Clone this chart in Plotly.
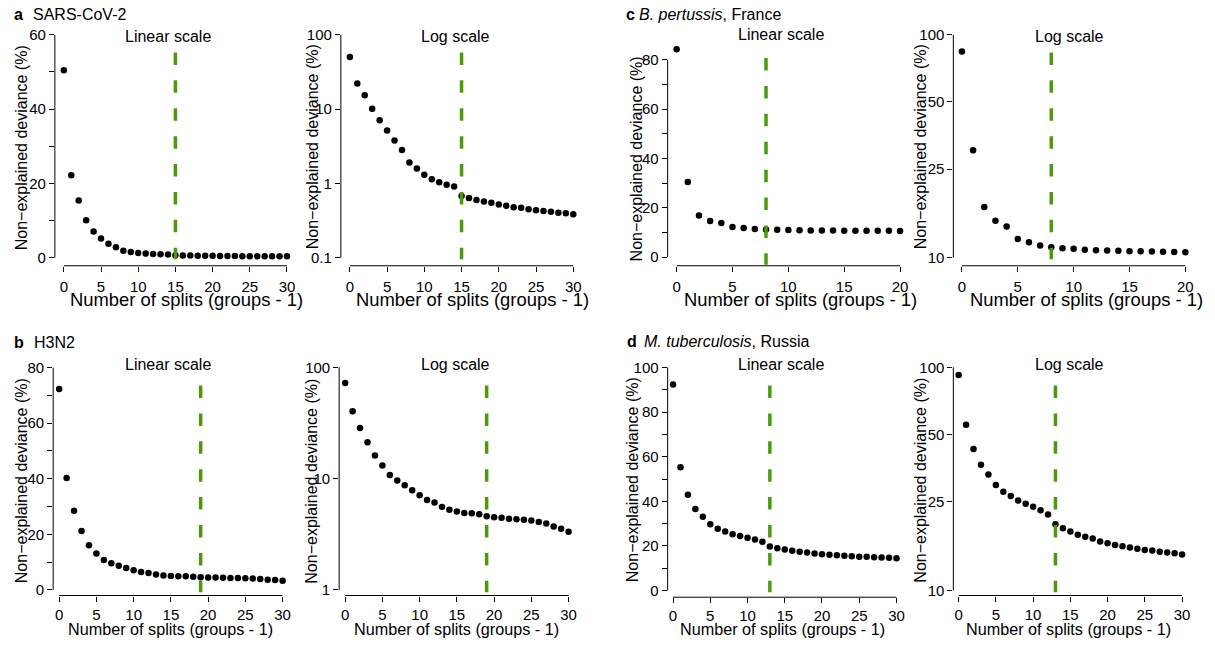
import math
import plotly.graph_objects as go

W, H = 1215, 645
FONT = "Liberation Sans, Arial, Helvetica, sans-serif"

# ---------------- data ----------------
splits_30 = [0, 1, 2, 3, 4, 5, 6, 7, 8, 9, 10, 11, 12, 13, 14, 15, 16, 17, 18, 19, 20,
             21, 22, 23, 24, 25, 26, 27, 28, 29, 30]
splits_20 = [0, 1, 2, 3, 4, 5, 6, 7, 8, 9, 10, 11, 12, 13, 14, 15, 16, 17, 18, 19, 20]

sars_cov2 = [50.5, 22.2, 15.4, 10.1, 7.1, 5.18, 3.8, 2.82, 1.91, 1.59, 1.31, 1.14, 1.04,
             0.96, 0.91, 0.68, 0.64, 0.60, 0.57, 0.55, 0.52, 0.50, 0.48, 0.47, 0.45,
             0.435, 0.426, 0.417, 0.405, 0.397, 0.385]
h3n2 = [72.3, 40.3, 28.5, 21.2, 16.1, 13.1, 10.8, 9.6, 8.7, 7.85, 7.08, 6.43, 6.1, 5.57,
        5.24, 5.06, 4.92, 4.89, 4.79, 4.59, 4.5, 4.44, 4.35, 4.32, 4.26, 4.2, 4.08, 3.95,
        3.71, 3.54, 3.33]
pertussis = [84.2, 30.4, 16.9, 14.65, 13.8, 12.15, 11.75, 11.35, 11.16, 11.05, 10.97,
             10.86, 10.82, 10.78, 10.75, 10.71, 10.7, 10.67, 10.64, 10.63, 10.6]
tuberculosis = [92.4, 55.3, 43.0, 36.6, 33.1, 29.7, 27.7, 26.5, 25.3, 24.5, 23.7, 22.9,
                21.9, 19.8, 19.0, 18.4, 17.8, 17.4, 17.1, 16.6, 16.3, 16.0, 15.8, 15.6,
                15.4, 15.2, 15.1, 14.9, 14.8, 14.7, 14.5]

chosen_sars = 15
chosen_h3n2 = 19
chosen_pertussis = 8
chosen_tb = 13

x_ticks_30 = [0, 5, 10, 15, 20, 25, 30]
x_ticks_20 = [0, 5, 10, 15, 20]

y_lin_60 = [0, 10, 20, 30, 40, 50, 60]
y_lin_60_labels = ["0", "", "20", "", "40", "", "60"]
y_lin_80 = [0, 10, 20, 30, 40, 50, 60, 70, 80]
y_lin_80_labels = ["0", "", "20", "", "40", "", "60", "", "80"]
y_lin_100 = [0, 10, 20, 30, 40, 50, 60, 70, 80, 90, 100]
y_lin_100_labels = ["0", "", "20", "", "40", "", "60", "", "80", "", "100"]
y_log_a = [0.1, 1, 10, 100]
y_log_a_labels = ["0.1", "1", "10", "100"]
y_log_b = [1, 10, 100]
y_log_b_labels = ["1", "10", "100"]
y_log_cd = [10, 25, 50, 100]
y_log_cd_labels = ["10", "25", "50", "100"]

# ---------------- layout geometry (pixels) ----------------
panels = [
    # top row
    dict(x=splits_30, y=sars_cov2, split=chosen_sars, log=False, xt=x_ticks_30,
         yt=y_lin_60, ytl=y_lin_60_labels,
         axL=55, x0px=64, x1px=287.7, xB=267, yT=22, ylo_px=259, yhi_px=35,
         ytx=15, yty=148, title="Linear scale", tx=168.8, ty=36.7,
         xtx=186.5, xty=300.5, xfs=18.4, dtop=52.7, stand=2),
    dict(x=splits_30, y=sars_cov2, split=chosen_sars, log=True, xt=x_ticks_30,
         yt=y_log_a, ytl=y_log_a_labels,
         axL=341.7, x0px=350.7, x1px=574.7, xB=267, yT=22, ylo_px=259, yhi_px=35,
         ytx=306.7, yty=147, title="Log scale", tx=457, ty=36.7,
         xtx=473.7, xty=300.5, xfs=18.4, dtop=52.7, stand=2),
    dict(x=splits_20, y=pertussis, split=chosen_pertussis, log=False, xt=x_ticks_20,
         yt=y_lin_80, ytl=y_lin_80_labels,
         axL=669.3, x0px=678.3, x1px=902.3, xB=267, yT=22, ylo_px=258.3, yhi_px=60,
         ytx=631.7, yty=160, title="Linear scale", tx=783.3, ty=35,
         xtx=802.5, xty=300.5, xfs=18.4, dtop=58.3, stand=2),
    dict(x=splits_20, y=pertussis, split=chosen_pertussis, log=True, xt=x_ticks_20,
         yt=y_log_cd, ytl=y_log_cd_labels,
         axL=955.7, x0px=964.3, x1px=1188.3, xB=267, yT=22, ylo_px=259, yhi_px=35,
         ytx=916.7, yty=147.5, title="Log scale", tx=1072, ty=36.7,
         xtx=1089, xty=300.5, xfs=18.4, dtop=52.7, stand=2),
    # bottom row
    dict(x=splits_30, y=h3n2, split=chosen_h3n2, log=False, xt=x_ticks_30,
         yt=y_lin_80, ytl=y_lin_80_labels,
         axL=53.3, x0px=59.3, x1px=283.3, xB=598.3, yT=352, ylo_px=592.7, yhi_px=369.3,
         ytx=15, yty=482.5, title="Linear scale", tx=168.8, ty=366,
         xtx=170.8, xty=631.5, xfs=16.2, dtop=387.3, stand=0),
    dict(x=splits_30, y=h3n2, split=chosen_h3n2, log=True, xt=x_ticks_30,
         yt=y_log_b, ytl=y_log_b_labels,
         axL=340, x0px=346, x1px=570, xB=598.3, yT=352, ylo_px=592.7, yhi_px=369,
         ytx=306.7, yty=483, title="Log scale", tx=457, ty=366,
         xtx=457.5, xty=631.5, xfs=16.2, dtop=387.3, stand=0),
    dict(x=splits_30, y=tuberculosis, split=chosen_tb, log=False, xt=x_ticks_30,
         yt=y_lin_100, ytl=y_lin_100_labels,
         axL=669.3, x0px=674.7, x1px=898.7, xB=600, yT=352, ylo_px=593.3, yhi_px=369.3,
         ytx=628.3, yty=481.7, title="Linear scale", tx=783, ty=366,
         xtx=784.7, xty=631.5, xfs=16.2, dtop=387.3, stand=0),
    dict(x=splits_30, y=tuberculosis, split=chosen_tb, log=True, xt=x_ticks_30,
         yt=y_log_cd, ytl=y_log_cd_labels,
         axL=955.7, x0px=961, x1px=1185, xB=598.3, yT=352, ylo_px=593.3, yhi_px=369,
         ytx=916.7, yty=482.5, title="Log scale", tx=1072, ty=366,
         xtx=1071.3, xty=631.5, xfs=16.2, dtop=387.3, stand=0),
]

GREEN = "#4c9a0c"
DASH_LEN = 12.5
DASH_PERIOD = 27.9

fig = go.Figure()
shapes = []
annotations = []
layout_axes = {}


def px_x(p):
    return p / W


def px_y(p):
    return 1 - p / H


for i, P in enumerate(panels, start=1):
    xs = "" if i == 1 else str(i)
    xname, yname = "x" + xs, "y" + xs
    xmax = P["xt"][-1]
    ppx = (P["x1px"] - P["x0px"]) / (xmax - P["xt"][0])
    gap = P["x0px"] - P["axL"]
    xr = [P["xt"][0] - gap / ppx, xmax + gap / ppx]
    R = P["x1px"] + gap

    fy = (lambda v: math.log10(v)) if P["log"] else (lambda v: v)
    ylo, yhi = P["yt"][0], P["yt"][-1]
    ppy = (P["ylo_px"] - P["yhi_px"]) / (fy(yhi) - fy(ylo))
    yr = [fy(ylo) - (P["xB"] - P["ylo_px"]) / ppy, fy(yhi) + (P["yhi_px"] - P["yT"]) / ppy]

    fig.add_trace(go.Scatter(
        x=P["x"], y=P["y"], mode="markers", xaxis=xname, yaxis=yname,
        marker=dict(color="black", size=6.5, line=dict(width=0)),
        cliponaxis=False, showlegend=False, hoverinfo="x+y"))

    tick_common = dict(showgrid=False, zeroline=False, showline=False, ticks="outside",
                       ticklen=5, tickwidth=1, tickcolor="black",
                       tickfont=dict(family=FONT, size=15, color="black"),
                       fixedrange=True)
    layout_axes["xaxis" + xs] = dict(
        domain=[px_x(P["axL"]), px_x(R)], range=xr, anchor=yname,
        tickmode="array", tickvals=P["xt"], ticktext=[str(v) for v in P["xt"]],
        ticklabelstandoff=P["stand"], **tick_common)
    layout_axes["yaxis" + xs] = dict(
        domain=[px_y(P["xB"]), px_y(P["yT"])], range=yr, anchor=xname,
        type="log" if P["log"] else "linear",
        tickmode="array", tickvals=P["yt"], ticktext=P["ytl"],
        **tick_common)

    # axis lines spanning only the tick range (R-style)
    shapes.append(dict(type="line", xref=xname, yref=yname + " domain",
                       x0=P["xt"][0], x1=xmax, y0=0, y1=0,
                       line=dict(color="black", width=1)))
    shapes.append(dict(type="line", xref=xname + " domain", yref=yname,
                       x0=0, x1=0, y0=ylo, y1=yhi,
                       line=dict(color="black", width=1)))
    # chosen split dashed line
    top = P["dtop"]
    bot = top + 7 * DASH_PERIOD + DASH_LEN
    shapes.append(dict(type="line", xref=xname, yref="paper",
                       x0=P["split"], x1=P["split"], y0=px_y(top), y1=px_y(bot),
                       line=dict(color=GREEN, width=3.5,
                                 dash="%.1fpx,%.1fpx" % (DASH_LEN, DASH_PERIOD - DASH_LEN))))

    annotations.append(dict(text=P["title"], xref="paper", yref="paper",
                            x=px_x(P["tx"]), y=px_y(P["ty"]), xanchor="center",
                            yanchor="middle", showarrow=False,
                            font=dict(family=FONT, size=16, color="black")))
    annotations.append(dict(text="Number of splits (groups - 1)", xref="paper", yref="paper",
                            x=px_x(P["xtx"]), y=px_y(P["xty"]), xanchor="center",
                            yanchor="middle", showarrow=False,
                            font=dict(family=FONT, size=P["xfs"], color="black")))
    annotations.append(dict(text="Non\u2212explained deviance (%)", xref="paper", yref="paper",
                            x=px_x(P["ytx"] + 6), y=px_y(P["yty"]), xanchor="center",
                            yanchor="middle", textangle=-90, showarrow=False,
                            font=dict(family=FONT, size=16, color="black")))

# panel labels
labels = [
    ("a", "SARS-CoV-2", 11.7, 30.7, 15),
    ("b", "H3N2", 11.7, 32.3, 344),
    ("c", "<i>B. pertussis</i>, France", 625.7, 638.5, 15),
    ("d", "<i>M. tuberculosis</i>, Russia", 626.3, 643.3, 343),
]
for letter, name, lx, nx, ly in labels:
    annotations.append(dict(text="<b>%s</b>" % letter, xref="paper", yref="paper",
                            x=px_x(lx), y=px_y(ly), xanchor="left", yanchor="middle",
                            showarrow=False, font=dict(family=FONT, size=16, color="black")))
    annotations.append(dict(text=name, xref="paper", yref="paper",
                            x=px_x(nx), y=px_y(ly), xanchor="left", yanchor="middle",
                            showarrow=False, font=dict(family=FONT, size=16, color="black")))

fig.update_layout(
    width=W, height=H, margin=dict(l=0, r=0, t=0, b=0, pad=0),
    paper_bgcolor="white", plot_bgcolor="white",
    font=dict(family=FONT, color="black"),
    shapes=shapes, annotations=annotations, showlegend=False,
    **layout_axes)

fig.write_html("out.html")
